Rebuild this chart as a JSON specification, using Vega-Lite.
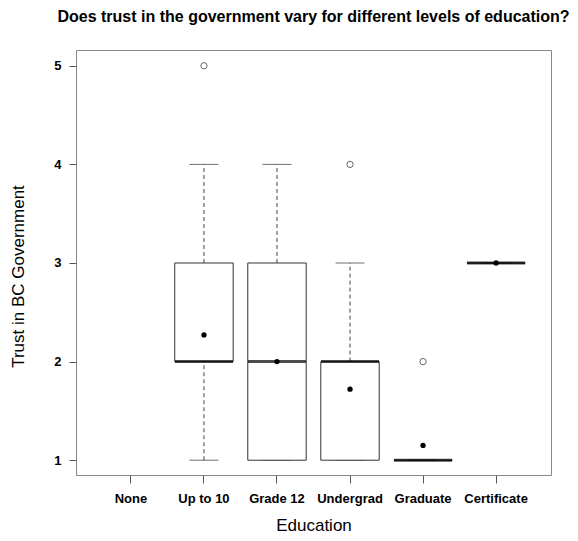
{
  "$schema": "https://vega.github.io/schema/vega-lite/v6.json",
  "width": 475,
  "height": 425,
  "autosize": {"type": "none"},
  "padding": {"left": 76, "top": 50, "right": 27, "bottom": 66},
  "background": "white",
  "title": {
    "text": "Does trust in the government vary for different levels of education?",
    "fontSize": 16,
    "fontWeight": "bold",
    "font": "Liberation Sans",
    "color": "black",
    "anchor": "middle",
    "offset": 25
  },
  "config": {
    "view": {"stroke": "#888888", "strokeWidth": 1},
    "font": "Liberation Sans"
  },
  "datasets": {
    "stats": [
      {"edu": "Up to 10", "min": 1, "q1": 2, "median": 2, "q3": 3, "max": 4, "mean": 2.27},
      {"edu": "Grade 12", "min": 1, "q1": 1, "median": 2, "q3": 3, "max": 4, "mean": 2.0},
      {"edu": "Undergrad", "min": 1, "q1": 1, "median": 2, "q3": 2, "max": 3, "mean": 1.72},
      {"edu": "Graduate", "min": 1, "q1": 1, "median": 1, "q3": 1, "max": 1, "mean": 1.15},
      {"edu": "Certificate", "min": 3, "q1": 3, "median": 3, "q3": 3, "max": 3, "mean": 3.0}
    ],
    "outliers": [
      {"edu": "Up to 10", "value": 5},
      {"edu": "Undergrad", "value": 4},
      {"edu": "Graduate", "value": 2}
    ]
  },
  "encoding": {
    "x": {
      "field": "edu",
      "type": "nominal",
      "sort": null,
      "scale": {
        "type": "band",
        "domain": ["None", "Up to 10", "Grade 12", "Undergrad", "Graduate", "Certificate"],
        "paddingInner": 0.2,
        "paddingOuter": 0.352
      },
      "axis": {
        "title": "Education",
        "titleFontSize": 17,
        "titleFontWeight": "normal",
        "titleColor": "black",
        "titlePadding": 12,
        "labelAngle": 0,
        "labelFontSize": 13,
        "labelFontWeight": "bold",
        "labelColor": "black",
        "labelPadding": 9,
        "tickSize": 8,
        "tickColor": "#555555",
        "domain": false,
        "grid": false
      }
    }
  },
  "layer": [
    {
      "data": {"name": "stats"},
      "mark": {"type": "rule", "strokeDash": [4, 3], "color": "#444444", "strokeWidth": 1},
      "encoding": {
        "y": {
          "field": "q3",
          "type": "quantitative",
          "scale": {"domain": [0.85, 5.16], "nice": false, "zero": false},
          "axis": {
            "title": "Trust in BC Government",
            "titleFontSize": 17,
            "titleFontWeight": "normal",
            "titleColor": "black",
            "titleX": -58,
            "titleY": 226,
            "titleAlign": "center",
            "titleBaseline": "middle",
            "values": [1, 2, 3, 4, 5],
            "format": "d",
            "labelFontSize": 13,
            "labelFontWeight": "bold",
            "labelColor": "black",
            "labelPadding": 8,
            "tickSize": 7,
            "tickColor": "#555555",
            "domain": false,
            "grid": false
          }
        },
        "y2": {"field": "max"}
      }
    },
    {
      "data": {"name": "stats"},
      "mark": {"type": "rule", "strokeDash": [4, 3], "color": "#444444", "strokeWidth": 1},
      "encoding": {
        "y": {"field": "min", "type": "quantitative"},
        "y2": {"field": "q1"}
      }
    },
    {
      "data": {"name": "stats"},
      "mark": {"type": "tick", "size": 29, "thickness": 1, "color": "#333333"},
      "encoding": {"y": {"field": "max", "type": "quantitative"}}
    },
    {
      "data": {"name": "stats"},
      "mark": {"type": "tick", "size": 29, "thickness": 1, "color": "#333333"},
      "encoding": {"y": {"field": "min", "type": "quantitative"}}
    },
    {
      "data": {"name": "stats"},
      "mark": {"type": "bar", "fill": "white", "stroke": "#333333", "strokeWidth": 1},
      "encoding": {
        "y": {"field": "q1", "type": "quantitative"},
        "y2": {"field": "q3"}
      }
    },
    {
      "data": {"name": "stats"},
      "mark": {"type": "tick", "size": 58, "thickness": 3, "color": "black"},
      "encoding": {"y": {"field": "median", "type": "quantitative"}}
    },
    {
      "data": {"name": "outliers"},
      "mark": {"type": "point", "shape": "circle", "filled": false, "size": 40, "stroke": "#666666", "strokeWidth": 1, "opacity": 1},
      "encoding": {"y": {"field": "value", "type": "quantitative"}}
    },
    {
      "data": {"name": "stats"},
      "mark": {"type": "point", "shape": "circle", "filled": true, "size": 28, "color": "black", "opacity": 1},
      "encoding": {"y": {"field": "mean", "type": "quantitative"}}
    }
  ]
}
